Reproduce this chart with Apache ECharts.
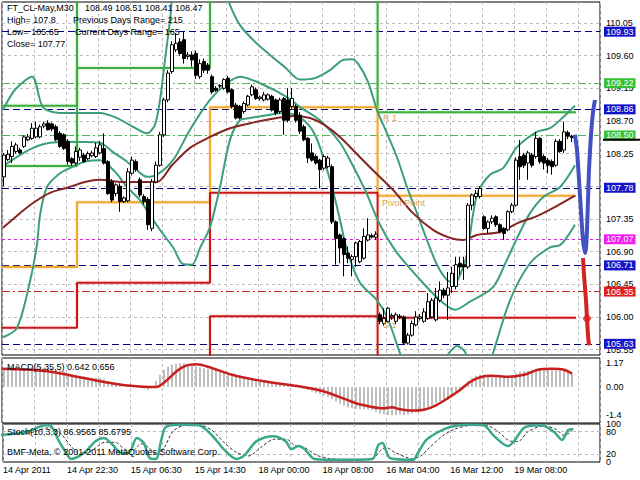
<!DOCTYPE html>
<html>
<head>
<meta charset="utf-8">
<script src="https://cdn.jsdelivr.net/npm/echarts@6.0.0/dist/echarts.min.js"></script>
<style>
html,body{margin:0;padding:0;background:#fff;}
#chart{width:640px;height:480px;}
</style>
</head>
<body>
<div id="chart"></div>
<script>
// ---------------- DATA ----------------
const opens = [
107.93,108.17,108.21,108.28,108.30,108.35,108.44,108.46,108.48,108.48,
108.63,108.67,108.66,108.62,108.53,108.51,108.42,108.18,108.12,108.20,
108.23,108.18,108.22,108.21,108.26,108.32,108.14,107.86,107.70,107.80,
107.59,107.60,107.98,108.14,107.89,107.66,107.62,107.22,107.86,108.09,
108.51,108.99,109.38,109.68,109.79,109.82,109.59,109.61,109.63,109.31,
109.52,109.47,109.31,109.15,109.18,109.15,109.29,109.13,108.92,108.90,
108.83,108.92,109.06,109.13,109.01,108.99,109.00,109.04,108.99,108.83,
109.01,108.99,108.90,108.90,108.78,108.62,108.46,108.26,108.21,108.16,
108.05,108.07,108.07,107.31,107.13,107.08,106.88,106.79,106.83,106.76,
106.81,107.06,107.12,107.10,106.03,105.91,105.94,106.00,105.94,106.01,
106.00,105.64,105.75,105.89,105.98,105.94,105.98,106.00,105.96,106.23,
106.37,106.30,106.42,106.42,106.74,106.72,106.69,107.54,107.66,107.66,
107.38,107.22,107.31,107.38,107.27,107.22,107.20,107.45,107.54,108.21,
108.23,108.12,108.23,108.21,108.46,108.21,108.16,108.14,108.09,108.42,
108.30,108.54,108.49];
const closes = [
108.23,108.24,108.35,108.37,108.26,108.48,108.48,108.60,108.60,108.62,
108.66,108.58,108.59,108.44,108.35,108.32,108.14,108.12,108.28,108.30,
108.14,108.25,108.26,108.33,108.37,108.12,107.70,107.61,107.82,107.59,
107.64,108.00,108.16,108.03,107.68,107.59,107.27,107.86,108.09,108.51,
108.99,109.36,109.75,109.77,109.63,109.56,109.61,109.54,109.33,109.49,
109.40,109.40,109.10,109.12,109.19,109.27,109.10,108.90,108.74,108.74,
108.94,109.04,109.17,109.01,109.03,109.06,109.06,108.85,108.81,108.99,
108.71,108.71,109.01,108.71,108.56,108.44,108.19,108.16,108.12,108.03,
108.21,108.19,107.31,107.08,106.95,106.86,106.81,106.83,107.02,107.04,
107.11,107.13,107.10,107.14,105.94,105.98,106.12,106.02,106.03,106.00,
105.64,105.75,105.91,106.00,106.00,106.07,106.21,106.23,106.26,106.37,
106.30,106.40,106.60,106.72,106.69,106.69,107.54,107.68,107.70,107.77,
107.22,107.31,107.36,107.27,107.18,107.15,107.45,107.54,108.16,108.07,
108.09,108.26,108.09,108.46,108.14,108.12,108.09,108.07,108.42,108.28,
108.55,108.49,108.47];
const lows = [
107.80,108.15,108.12,108.25,108.24,108.33,108.42,108.44,108.46,108.46,
108.60,108.57,108.56,108.42,108.33,108.30,108.10,108.08,108.09,108.15,
108.12,108.16,108.20,108.19,108.24,108.10,107.68,107.58,107.66,107.45,
107.57,107.58,107.95,108.00,107.65,107.55,107.20,107.18,107.84,108.07,
108.48,108.96,109.35,109.65,109.60,109.49,109.55,109.45,109.28,109.28,
109.36,109.35,109.07,109.10,109.15,109.13,109.08,108.87,108.72,108.72,
108.80,108.90,109.04,108.99,108.98,108.97,108.98,108.83,108.78,108.80,
108.51,108.68,108.87,108.68,108.52,108.42,108.12,108.14,108.10,107.77,
108.02,108.05,107.28,106.72,106.74,106.56,106.74,106.56,106.69,106.74,
106.79,107.04,107.08,107.06,105.90,105.88,105.92,105.96,105.90,105.97,
105.63,105.62,105.73,105.87,105.95,105.92,105.96,105.98,105.94,106.20,
106.26,105.96,106.33,106.38,106.58,106.51,106.66,107.47,107.63,107.63,
107.20,107.15,107.28,107.24,107.15,107.06,107.18,107.43,107.52,107.89,
108.05,107.89,108.06,108.18,108.11,108.03,107.98,107.96,108.07,108.26,
108.26,108.45,108.41];
const highs = [
108.26,108.30,108.42,108.40,108.33,108.50,108.52,108.67,108.69,108.65,
108.69,108.71,108.68,108.65,108.56,108.53,108.45,108.20,108.35,108.33,
108.26,108.28,108.29,108.40,108.42,108.53,108.16,107.90,107.84,107.84,
107.66,108.05,108.21,108.17,107.92,107.69,107.65,107.90,108.14,108.55,
109.02,109.40,109.80,109.91,109.84,109.93,109.65,109.66,109.67,109.55,
109.56,109.50,109.34,109.18,109.21,109.29,109.32,109.15,108.95,108.92,
108.97,109.06,109.20,109.16,109.05,109.10,109.08,109.06,109.01,109.02,
109.03,109.15,109.15,108.93,108.82,108.65,108.48,108.39,108.24,108.18,
108.24,108.22,108.10,107.33,107.15,107.10,106.97,106.86,107.04,107.06,
107.22,107.36,107.15,107.18,106.06,106.12,106.14,106.05,106.06,106.04,
106.02,105.78,105.95,106.08,106.04,106.12,106.33,106.26,106.40,106.49,
106.40,106.62,106.69,106.83,106.83,106.83,107.57,107.70,107.75,107.80,
107.40,107.33,107.40,107.40,107.29,107.24,107.47,107.57,108.20,108.44,
108.26,108.29,108.26,108.55,108.48,108.24,108.19,108.17,108.45,108.45,
108.69,108.57,108.51];

// band lines and slow moving average: [bar position, price]
const bandUpper = [[-0.25,108.85],[2.75,109.13],[7,109.31],[9.75,108.89],[14,108.81],[18.25,108.81],[24,108.81],[28.25,108.74],[32.25,108.62],[35.75,108.53],[37.75,108.65],[39,108.99],[40.25,109.54],[41.5,110.09],[43,110.78],[49,111.47],[54,110.78],[56,110.37],[59,110.02],[62.75,109.79],[66.5,109.61],[70.25,109.44],[74,109.27],[77.75,109.29],[81.5,109.40],[84.75,109.54],[87,109.55],[88.5,109.49],[91,109.24],[93.25,108.85],[95.75,108.53],[98.25,108.20],[100.75,107.79],[103.25,107.43],[105.75,107.06],[108.25,106.72],[110.75,106.51],[112.75,106.47],[114.5,106.65],[115.75,106.86],[117.25,107.41],[118.5,107.72],[121.5,107.96],[124.75,108.05],[128.25,108.34],[133.25,108.55],[136.5,108.60],[139.75,108.75],[142.75,108.91]];
const bandMiddle = [[-0.25,108.08],[4,108.23],[7.25,108.33],[11.5,108.40],[15.75,108.41],[20.25,108.41],[24,108.40],[27.25,108.27],[30.25,108.16],[32.25,108.07],[35.75,107.93],[38.25,107.96],[42.25,108.16],[46.5,108.58],[51.5,108.99],[55.75,109.22],[59,109.31],[64,109.22],[70.75,109.03],[74,108.89],[79,108.71],[84,108.40],[86.5,108.16],[90.25,107.75],[94,107.27],[97.75,106.92],[101.5,106.67],[105.75,106.41],[109,106.23],[112.75,106.10],[116.5,106.21],[122.25,106.41],[125.75,106.79],[129,107.17],[131.5,107.43],[134.75,107.65],[139,107.79],[142.75,108.09]];
const bandLower = [[-0.25,105.72],[3.25,105.85],[6.5,106.49],[8.25,107.00],[9,107.40],[10.75,107.79],[14,107.98],[17.25,108.07],[20.25,108.14],[24,108.16],[27.75,108.00],[30.75,107.79],[34,107.61],[36.5,107.40],[39,107.20],[42.25,106.96],[44.75,106.73],[47,106.72],[49,106.95],[51.5,107.24],[54,107.79],[56.5,108.44],[59,108.71],[61.5,108.74],[65.75,108.78],[69.75,108.81],[74,108.75],[77.75,108.51],[81.5,107.89],[84,107.34],[85.75,106.92],[89,106.47],[93.25,106.23],[95.75,106.00],[99,105.50],[101.5,105.13],[106.5,105.13],[110.25,105.43],[113.25,105.60],[115.25,105.52],[117.75,105.13],[120.25,105.20],[122.25,105.50],[126.5,106.23],[131.5,106.74],[136.5,106.96],[139,106.99],[140.75,107.10],[142.75,107.27]];
const maSlow = [[-0.25,107.23],[4,107.43],[7.25,107.57],[11.5,107.71],[15.75,107.78],[20.25,107.86],[24,107.89],[29,107.86],[34,107.86],[38.25,107.86],[42,108.09],[46.5,108.33],[51.5,108.48],[56.5,108.60],[61.5,108.67],[68.25,108.74],[72.25,108.77],[76.5,108.74],[80.25,108.64],[84,108.48],[89,108.20],[92.25,108.02],[97.25,107.75],[102.25,107.43],[107.25,107.20],[111.5,107.09],[114.75,107.06],[118.25,107.13],[124,107.17],[128.25,107.29],[133.25,107.39],[138.25,107.53],[142.75,107.67]];

// daily pivot levels (day boundaries in bar positions)
const dayBounds = [-1, 18.25, 51.5, 93.4, 143];
const pivotR2 = [108.91, 110.80, 110.80, 110.80];
const pivotR1 = [108.08, 109.43, 110.80, 108.82];
const pivotPP = [106.69, 107.58, 108.89, 107.67];
const pivotS1 = [105.85, 106.47, 107.71, 105.99];
const pivotS2 = [105.00, 105.00, 106.01, 105.00];

// drawn forecast arrows
const arrowBlue = [[142.75,108.51],[143.25,108.30],[143.75,107.89],[144.25,107.45],[144.75,107.06],[145.25,106.88],[145.5,106.95],[145.75,107.20],[146,107.61],[146.25,108.03],[146.75,108.51],[147.25,108.82],[147.75,108.99]];
const arrowRed = [[144.75,106.81],[145,106.58],[145.5,106.23],[145.75,105.98],[146,105.75],[146.25,105.61]];
const arrowRedMark = [[145.75,105.98]];

// horizontal levels
const priceTicks = [110.05,109.60,109.15,108.70,108.25,107.80,107.35,106.90,106.45,106.00,105.55];
const blueLevels = [109.93,108.86,107.78,106.71,105.63];
const greenLevels = [109.22,108.50];
const magentaLevels = [107.07];
const redLevels = [106.35];
const lastPrice = [108.44];

// MACD
const macdHist = [
0.94,0.93,0.92,0.92,0.93,0.94,
0.95,0.96,0.97,0.97,0.96,0.95,0.93,
0.88,0.82,0.76,0.68,0.62,0.58,
0.55,0.52,0.48,0.46,0.45,0.44,0.40,
0.30,0.20,0.12,0.05,0.02,0.05,0.08,0.05,-0.02,-0.08,-0.15,
0.05,0.30,0.60,0.85,1.00,1.10,1.15,1.167,1.16,
1.12,1.08,1.02,0.97,0.93,0.90,0.85,0.80,0.77,0.75,
0.70,0.65,0.60,0.55,0.50,0.46,0.42,0.40,0.37,0.33,0.30,0.26,0.22,0.18,0.14,
0.10,0.06,0.02,-0.03,-0.08,-0.15,-0.22,-0.28,-0.34,-0.40,
-0.48,-0.60,-0.72,-0.82,-0.92,-1.00,-1.05,-1.08,-1.10,-1.10,-1.12,-1.15,
-1.22,-1.30,-1.35,-1.38,-1.396,-1.38,-1.35,-1.38,
-1.35,-1.30,-1.25,-1.18,-1.10,-1.00,-0.90,-0.80,-0.70,-0.60,
-0.50,-0.40,-0.25,-0.12,0.10,0.30,0.45,0.55,0.62,
0.62,0.60,0.58,0.55,0.52,0.50,0.52,0.56,0.68,0.75,0.78,
0.80,0.85,0.90,0.92,0.90,0.86,0.82,0.80,0.82,0.85,0.80,0.64];
const macdSignal = [[-0.5,0.90],[5,0.86],[12,0.74],[20,0.44],[28,0.15],[34,0.02],[38,0.0],[40.5,0.30],[43,0.75],[45.5,1.05],[48,1.12],[51,1.00],[57,0.60],[65,0.28],[74,0.02],[80,-0.22],[84,-0.50],[88,-0.80],[92,-0.98],[95,-1.05],[97,-1.00],[99,-1.10],[102,-1.16],[105,-1.12],[108,-0.90],[111,-0.55],[114,-0.15],[116.5,0.25],[119,0.48],[122,0.55],[126,0.50],[130,0.60],[133.5,0.85],[137,0.90],[140,0.85],[142,0.66]];
const macdTicks = [1.167, 0, -1.396];
const macdTickLabels = ['1.167', '0.00', '-1.396'];

// Stochastic
const stochMain = [[-1,71],[5.25,79],[10.25,97],[11.5,95],[13.5,55],[15.5,21],[16.5,8],[19.75,24],[22.75,55],[24.75,63],[27,45],[29,24],[31,24],[33,63],[34.75,50],[36.25,10],[37.75,8],[39.25,63],[40.25,92],[43.5,98],[48.5,97],[51.75,71],[54.75,34],[58,8],[60,18],[63,55],[67.25,68],[70.25,55],[71.75,34],[73.5,42],[75,34],[77.5,8],[81.75,6],[87.75,6],[92,8],[93.5,45],[94.5,50],[96.5,10],[102.25,6],[103.25,21],[105.5,58],[108.5,79],[111.5,92],[115.75,98],[119.75,97],[122.5,68],[126,42],[127.5,55],[130.25,92],[134.25,97],[137.5,79],[139.5,58],[141,84],[142.25,87]];
const stochSignal = [[-1,72],[6,76],[11,90],[14,74],[16.5,42],[19,20],[22,32],[25,52],[27.5,52],[30,33],[32,30],[34,48],[36,38],[38,20],[40,40],[42,80],[45,96],[49,96],[52,82],[55,50],[58,25],[61,16],[64,38],[67.5,60],[70.5,60],[72.5,44],[75,38],[78,18],[82,8],[88,7],[92,8],[94,30],[95.5,38],[97.5,26],[102,9],[104,15],[106.5,40],[109.5,68],[112.5,86],[116.5,96],[120.5,96],[123.5,80],[126.5,55],[128.5,54],[131,80],[135,95],[138,86],[140,70],[141.5,78],[142.25,86]];
const stochLevels = [80, 20];
const stochEnds = [100, 0];

const xTickLabels = ['14 Apr 2011','14 Apr 22:30','15 Apr 06:30','15 Apr 14:30','18 Apr 00:00','18 Apr 08:00','16 Mar 04:00','16 Mar 12:00','19 Mar 08:00'];

// ---------------- CHART ----------------
const FONT = 'Liberation Sans, Arial, sans-serif';
const chart = echarts.init(document.getElementById('chart'), null, {renderer: 'svg', width: 640, height: 480});

const candleData = opens.map((o, i) => [i, o, closes[i], lows[i], highs[i]]);
function stepLine(levels) {
  const pts = [];
  levels.forEach((lv, d) => { pts.push([dayBounds[d], lv]); pts.push([dayBounds[d + 1], lv]); });
  return pts;
}
const txt = {fontSize: 9, fontWeight: 'normal', color: '#000', fontFamily: FONT};
function t(text, left, top, color) {
  return {text, left, top, padding: 0, z: 10, textStyle: Object.assign({}, txt, color ? {color} : {})};
}
function xAxisFor(gridIndex, position) {
  return {type: 'value', gridIndex, position, min: -0.5, max: 149, interval: 8,
    axisLine: {show: false}, axisTick: {show: false}, axisLabel: {show: false},
    splitLine: {show: true, lineStyle: {color: '#BDBDBD', type: [3, 3], width: 1}}};
}
function levelSeries(levels, lineColor, dash, boxColor) {
  return {type: 'line', xAxisIndex: 0, yAxisIndex: 0, data: [], clip: false, z: 2, silent: true,
    markLine: {silent: true, symbol: 'none', animation: false, z: 2,
      lineStyle: {color: lineColor, type: dash, width: 1},
      label: {show: true, position: 'end', distance: 4, color: '#fff', backgroundColor: boxColor,
        padding: [1, 2, 0, 2], fontSize: 9, fontFamily: FONT, formatter: p => p.value.toFixed(2)},
      data: levels.map(v => ({yAxis: v}))}};
}
function lineS(data, color, width, z, extra) {
  return Object.assign({type: 'line', xAxisIndex: 0, yAxisIndex: 0, data, symbol: 'none', smooth: 0.3,
    silent: true, z, lineStyle: {color, width}}, extra || {});
}
function stepS(levels, color, glow) {
  return {type: 'line', xAxisIndex: 0, yAxisIndex: 0, data: stepLine(levels), symbol: 'none', silent: true, z: 3,
    lineStyle: {color, width: 2, shadowColor: glow, shadowBlur: 2}};
}

const option = {
  animation: false,
  backgroundColor: '#fff',
  title: [
    t('FT_CL-May,M30', 7, 3), t('108.49 108.51 108.41 108.47', 85, 3),
    t('High= 107.8', 7, 15), t('Previous Days Range= 215', 73, 15),
    t('Low= 105.65', 7, 27), t('Current Days Range= 165', 75, 27),
    t('Close= 107.77', 7, 39),
    t('R 1', 383, 113, '#E3A24E'), t('Pivot Point', 382, 198, '#E3A24E'), t('S 1', 383, 320, '#E3A24E'),
    t('MACD(5,35,5) 0.642 0.656', 7, 362),
    t('Stoch(10,3,3) 86.9565 85.6795', 7, 427),
    t('BMF-Meta, \u00A9 2001-2011 MetaQuotes Software Corp.', 7, 447)
  ],
  grid: [
    {left: 2, top: 2, width: 598, height: 353, show: true, borderColor: '#000', borderWidth: 1},
    {left: 2, top: 358, width: 598, height: 65, show: true, borderColor: '#000', borderWidth: 1},
    {left: 2, top: 424, width: 598, height: 38, show: true, borderColor: '#000', borderWidth: 1}
  ],
  xAxis: [
    xAxisFor(0, 'bottom'), xAxisFor(1, 'bottom'), xAxisFor(2, 'top'),
    {type: 'value', gridIndex: 2, position: 'bottom', min: -0.5, max: 149, interval: 16,
      axisLine: {show: false}, axisTick: {show: false}, splitLine: {show: false},
      axisLabel: {show: true, align: 'left', margin: 3, fontSize: 9, color: '#000', fontFamily: FONT,
        showMinLabel: true, showMaxLabel: false,
        formatter: v => {
          const k = (v + 0.5) / 16;
          if (Math.abs(k - Math.round(k)) < 0.01) return xTickLabels[Math.round(k)] || '';
          if (v > 0 && v % 16 === 0) return xTickLabels[v / 16] || '';
          return '';
        }}}
  ],
  yAxis: [
    {type: 'value', gridIndex: 0, min: 105.476, max: 110.339, show: false},
    {type: 'value', gridIndex: 1, min: -1.773, max: 1.429, show: false},
    {type: 'value', gridIndex: 2, min: 0, max: 100, show: false}
  ],
  series: [
    // price grid + axis labels
    {type: 'line', xAxisIndex: 0, yAxisIndex: 0, data: [], clip: false, silent: true, z: 1,
      markLine: {silent: true, symbol: 'none', animation: false, z: 1,
        lineStyle: {color: '#BDBDBD', type: [3, 3], width: 1},
        label: {show: true, position: 'end', distance: 6, color: '#000', fontSize: 9, fontFamily: FONT,
          formatter: p => p.value.toFixed(2)},
        data: priceTicks.map(v => ({yAxis: v}))}},
    levelSeries(blueLevels, '#000080', [7, 4], '#1414C8'),
    levelSeries(greenLevels, '#4DB84D', [8, 3, 2, 3], '#35C035'),
    levelSeries(magentaLevels, '#E020E0', [3, 3], '#F020F0'),
    levelSeries(redLevels, '#C82020', [8, 3, 2, 3], '#E02020'),
    // current price marker on the price scale
    {type: 'line', xAxisIndex: 0, yAxisIndex: 0, data: [], clip: false, silent: true, z: 2,
      markLine: {silent: true, symbol: 'none', animation: false, z: 2,
        lineStyle: {color: 'transparent', width: 0},
        label: {show: true, position: 'end', distance: 3, backgroundColor: '#000', width: 37, height: 2,
          padding: 0, fontSize: 1, lineHeight: 2, formatter: () => ' '},
        data: lastPrice.map(v => ({yAxis: v}))}},
    // pivots
    stepS(pivotR2, '#3DAE3D', 'rgba(90,200,90,0.5)'),
    stepS(pivotR1, '#3DAE3D', 'rgba(90,200,90,0.5)'),
    stepS(pivotPP, '#F0A830', 'rgba(250,200,90,0.6)'),
    stepS(pivotS1, '#C81414', 'rgba(255,110,110,0.5)'),
    stepS(pivotS2, '#C81414', 'rgba(255,110,110,0.5)'),
    // bands & MA
    lineS(bandUpper, '#3C9E7C', 2, 3),
    lineS(bandMiddle, '#3C9E7C', 2, 3),
    lineS(bandLower, '#3C9E7C', 2, 3),
    lineS(maSlow, '#842424', 2, 3),
    // candles
    {type: 'candlestick', xAxisIndex: 0, yAxisIndex: 0, data: candleData, barWidth: 3, silent: true, z: 4,
      itemStyle: {color: '#fff', color0: '#000', borderColor: '#000', borderColor0: '#000', borderWidth: 1}},
    // arrows
    lineS(arrowBlue, '#4251C4', 4, 6, {smooth: 0.2}),
    lineS(arrowRed, '#D42222', 4, 6, {smooth: 0.2}),
    {type: 'scatter', xAxisIndex: 0, yAxisIndex: 0, data: arrowRedMark, symbol: 'diamond', symbolSize: [9, 12],
      silent: true, z: 6, itemStyle: {color: '#D42222'}},
    // MACD
    {type: 'bar', xAxisIndex: 1, yAxisIndex: 1, data: macdHist.map((v, i) => [i, v]), barWidth: 2, silent: true,
      itemStyle: {color: '#BEBEBE'}, z: 2},
    {type: 'line', xAxisIndex: 1, yAxisIndex: 1, data: macdSignal, symbol: 'none', smooth: 0.3, silent: true, z: 3,
      lineStyle: {color: '#C81E1E', width: 2.5}},
    {type: 'line', xAxisIndex: 1, yAxisIndex: 1, data: [], clip: false, silent: true, z: 4,
      markLine: {silent: true, symbol: 'none', animation: false, z: 4, lineStyle: {color: 'transparent', width: 0},
        label: {show: true, position: 'end', distance: 6, color: '#000', fontSize: 9, fontFamily: FONT,
          formatter: p => macdTickLabels[macdTicks.indexOf(p.value)]},
        data: macdTicks.map(v => ({yAxis: v}))}},
    // Stochastic
    {type: 'line', xAxisIndex: 2, yAxisIndex: 2, data: stochSignal, symbol: 'none', smooth: 0.3, silent: true, z: 3,
      lineStyle: {color: '#333', width: 1, type: [3, 2]}},
    {type: 'line', xAxisIndex: 2, yAxisIndex: 2, data: stochMain, symbol: 'none', smooth: 0.3, silent: true, z: 4,
      lineStyle: {color: '#3AA88C', width: 2.5}},
    {type: 'line', xAxisIndex: 2, yAxisIndex: 2, data: [], clip: false, silent: true, z: 1,
      markLine: {silent: true, symbol: 'none', animation: false, z: 1, lineStyle: {color: '#BDBDBD', type: [3, 3], width: 1},
        label: {show: true, position: 'end', distance: 6, color: '#000', fontSize: 9, fontFamily: FONT, formatter: p => String(p.value)},
        data: stochLevels.map(v => ({yAxis: v}))}},
    {type: 'line', xAxisIndex: 2, yAxisIndex: 2, data: [], clip: false, silent: true, z: 1,
      markLine: {silent: true, symbol: 'none', animation: false, z: 1, lineStyle: {color: 'transparent', width: 0},
        label: {show: true, position: 'end', distance: 6, color: '#000', fontSize: 9, fontFamily: FONT, formatter: p => String(p.value)},
        data: stochEnds.map(v => ({yAxis: v}))}}
  ]
};
chart.setOption(option);
</script>
</body>
</html>
